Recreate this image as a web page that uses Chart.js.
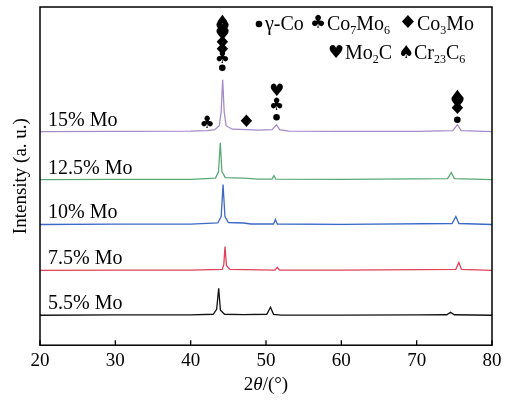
<!DOCTYPE html>
<html>
<head>
<meta charset="utf-8">
<script src="https://cdn.jsdelivr.net/npm/chart.js@4.4.0/dist/chart.umd.min.js"></script>
<style>
  body { margin: 0; background: #fff; }
  #wrap { width: 510px; height: 400px; }
</style>
</head>
<body>
<div id="wrap"><canvas id="xrd" width="510" height="400"></canvas></div>
<script>
// samples, bottom to top
var sampleNames = ['5.5% Mo', '7.5% Mo', '10% Mo', '12.5% Mo', '15% Mo'];
var sampleColors = ['#111111', '#e0415a', '#3d68c4', '#5aa876', '#a68bc9'];
var sampleOffsets = [30, 75, 121, 166, 214];

// 2theta / intensity (a.u.)
var mo55X = [20, 30, 40, 43.0, 43.45, 43.72, 43.95, 44.5, 47, 50.1, 50.6, 51.0, 52, 60, 70, 74.0, 74.5, 75.0, 80];
var mo55Y = [0, 0.3, 0.4, 1, 6, 27, 5, 1, 0.6, 1, 8, 1, 0.2, 0.2, 0.3, 0.5, 3, 0.5, 0];

var mo75X = [20, 30, 40, 44.2, 44.4, 44.56, 44.75, 45.2, 51.2, 51.5, 51.8, 60, 75.2, 75.6, 75.95, 80];
var mo75Y = [0, 0.3, 0.3, 1, 6, 24, 5, 1, 0.3, 3, 0.3, 0.2, 1, 8, 1, 0];

var mo10X = [20, 30, 40, 43.6, 44.05, 44.3, 44.55, 45, 47, 48, 51.0, 51.25, 51.5, 60, 74.7, 75.2, 75.6, 80];
var mo10Y = [0, 0.3, 0.3, 1.5, 8, 40, 8, 2, 1.5, 0.5, 0.5, 5, 0.5, 0.2, 1, 8, 1, 0];

var mo125X = [20, 30, 40, 43.3, 43.7, 43.93, 44.15, 44.6, 47, 49, 50.8, 51.05, 51.3, 60, 74.1, 74.6, 75.0, 80];
var mo125Y = [0, 0.3, 0.3, 1.5, 8, 37, 8, 2, 1.5, 0.5, 0.5, 4, 0.5, 0.2, 1, 7, 1, 0];

var mo15X = [20, 30, 40, 42.2, 43.2, 43.8, 44.05, 44.25, 44.45, 44.7, 45.5, 47.5, 49, 50.8, 51.4, 51.8, 53, 60, 70, 74.8, 75.4, 75.9, 80];
var mo15Y = [0, 0.3, 0.5, 1, 2, 6, 20, 52, 20, 6, 2.5, 2, 1.5, 2, 7, 2, 0.5, 0.3, 0.3, 1, 7, 1, 0];

var traceX = [mo55X, mo75X, mo10X, mo125X, mo15X];
var traceY = [mo55Y, mo75Y, mo10Y, mo125Y, mo15Y];

var xTicks = [20, 30, 40, 50, 60, 70, 80];

// phase marks above the 15% Mo peaks: position, height, symbol
var markX = [44.2, 44.2, 44.2, 44.2, 44.2, 44.2, 44.2, 51.4, 51.4, 51.4, 75.4, 75.4, 75.4, 75.4, 42.2, 47.4];
var markY = [278, 287, 295, 302, 310, 316, 323, 228.5, 240, 254.5, 226, 236, 242, 248, 222, 223];
var markS = ['dot', '\u2663', '\u2666', '\u2666', '\u2665', '\u2665', '\u2660', 'dot', '\u2663', '\u2665', 'dot', '\u2666', '\u2665', '\u2660', '\u2663', '\u2666'];

var serif = '"Liberation Serif", "Times New Roman", serif';
var symFont = '"DejaVu Sans", sans-serif';

var datasets = [];
for (var i = 0; i < sampleNames.length; i++) {
  var pts = [];
  for (var j = 0; j < traceX[i].length; j++) {
    pts.push({x: traceX[i][j], y: traceY[i][j] + sampleOffsets[i]});
  }
  datasets.push({
    label: sampleNames[i],
    data: pts,
    borderColor: sampleColors[i],
    borderWidth: 1.3,
    pointRadius: 0,
    tension: 0,
    fill: false
  });
}

function richText(ctx, x, y, parts, size) {
  // draws Co7Mo6 style text, returns end x
  for (var k = 0; k < parts.length; k++) {
    var p = parts[k];
    if (p.sub) {
      ctx.font = Math.round(size * 0.6) + 'px ' + serif;
      ctx.fillText(p.t, x, y + size * 0.2);
    } else {
      ctx.font = size + 'px ' + serif;
      ctx.fillText(p.t, x, y);
    }
    x += ctx.measureText(p.t).width;
  }
  return x;
}

function symbol(ctx, s, x, y, size) {
  if (s == 'dot') {
    ctx.beginPath();
    ctx.arc(x, y, 3.3, 0, Math.PI * 2);
    ctx.fill();
    return;
  }
  ctx.save();
  ctx.translate(x, y);
  // the diamond suit glyph is narrow, widen it a bit
  if (s == '\u2666') ctx.scale(1.2, 1);
  ctx.font = size + 'px ' + symFont;
  ctx.textAlign = 'center';
  ctx.textBaseline = 'middle';
  ctx.fillText(s, 0, 0);
  ctx.restore();
}

var decor = {
  id: 'decor',
  afterDraw: function(chart) {
    var ctx = chart.ctx;
    var a = chart.chartArea;
    var xs = chart.scales.x, ys = chart.scales.y;
    ctx.save();
    ctx.fillStyle = '#000';
    ctx.strokeStyle = '#000';

    // frame
    ctx.lineWidth = 1.5;
    ctx.strokeRect(a.left, a.top, a.right - a.left, a.bottom - a.top);

    // inward ticks
    ctx.lineWidth = 1.3;
    for (var t = 0; t < xTicks.length; t++) {
      var px = xs.getPixelForValue(xTicks[t]);
      ctx.beginPath();
      ctx.moveTo(px, a.bottom);
      ctx.lineTo(px, a.bottom - 5);
      ctx.stroke();
    }

    // axis titles
    ctx.textBaseline = 'alphabetic';
    var w1, w2, w3;
    ctx.font = '19px ' + serif; w1 = ctx.measureText('2').width; w3 = ctx.measureText('/(\u00b0)').width;
    ctx.font = 'italic 19px ' + serif; w2 = ctx.measureText('\u03b8').width;
    var cx = (a.left + a.right) / 2;
    var sx = cx - (w1 + w2 + w3) / 2;
    ctx.font = '19px ' + serif; ctx.fillText('2', sx, 390);
    ctx.font = 'italic 19px ' + serif; ctx.fillText('\u03b8', sx + w1, 390);
    ctx.font = '19px ' + serif; ctx.fillText('/(\u00b0)', sx + w1 + w2, 390);

    ctx.save();
    ctx.translate(26, (a.top + a.bottom) / 2);
    ctx.rotate(-Math.PI / 2);
    ctx.font = '19px ' + serif;
    ctx.textAlign = 'center';
    ctx.fillText('Intensity (a. u.)', 0, 0);
    ctx.restore();

    // sample labels
    ctx.font = '20px ' + serif;
    for (var i = 0; i < sampleNames.length; i++) {
      var by = ys.getPixelForValue(sampleOffsets[i]);
      ctx.fillText(sampleNames[i], 48, by - 6);
    }

    // phase marks
    for (var m = 0; m < markX.length; m++) {
      symbol(ctx, markS[m], xs.getPixelForValue(markX[m]), ys.getPixelForValue(markY[m]), 17);
    }

    // legend
    var size = 20;
    symbol(ctx, 'dot', 259, 24, 17);
    richText(ctx, 265, 30, [{t: '\u03b3-Co'}], size);
    symbol(ctx, '\u2663', 318, 23, 18);
    richText(ctx, 327, 30, [{t: 'Co'}, {t: '7', sub: true}, {t: 'Mo'}, {t: '6', sub: true}], size);
    symbol(ctx, '\u2666', 408, 23, 18);
    richText(ctx, 417, 30, [{t: 'Co'}, {t: '3', sub: true}, {t: 'Mo'}], size);
    symbol(ctx, '\u2665', 336, 53, 18);
    richText(ctx, 345, 59, [{t: 'Mo'}, {t: '2', sub: true}, {t: 'C'}], size);
    symbol(ctx, '\u2660', 406, 53, 18);
    richText(ctx, 414, 59, [{t: 'Cr'}, {t: '23', sub: true}, {t: 'C'}, {t: '6', sub: true}], size);

    ctx.restore();
  }
};

var myChart = new Chart(document.getElementById('xrd').getContext('2d'), {
  type: 'line',
  data: { datasets: datasets },
  options: {
    responsive: false,
    animation: false,
    devicePixelRatio: 1,
    layout: { padding: { left: 40, right: 18, top: 7, bottom: 24 } },
    plugins: { legend: { display: false }, tooltip: { enabled: false } },
    scales: {
      x: {
        type: 'linear',
        min: 20,
        max: 80,
        grid: { display: false, drawTicks: false },
        border: { display: false },
        ticks: {
          stepSize: 10,
          color: '#000',
          padding: 4,
          maxRotation: 0,
          font: { family: serif, size: 19 }
        }
      },
      y: {
        display: false,
        min: 0,
        max: 339
      }
    }
  },
  plugins: [decor]
});
</script>
</body>
</html>
